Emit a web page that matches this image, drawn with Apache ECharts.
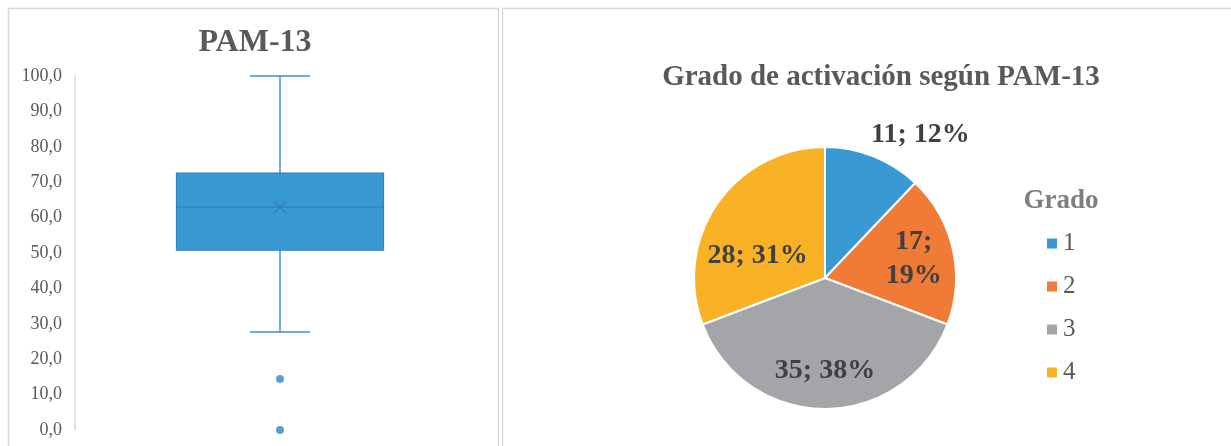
<!DOCTYPE html>
<html>
<head>
<meta charset="utf-8">
<title>PAM-13</title>
<script src="https://cdn.jsdelivr.net/npm/echarts@6/dist/echarts.min.js"></script>
<style>
  html, body { margin: 0; padding: 0; background: #fff; }
  #chart { width: 1231px; height: 446px; }
</style>
</head>
<body>
<div id="chart"></div>
<script>
// boxplot PAM-13 : min, Q1, mediana, Q3, max
var boxStats = [27.7, 50.8, 63.0, 72.6, 100.0];
var meanValue = 62.9;
var outliers = [14.4, 0.0];
var boxCategory = ['PAM-13'];

// grado de activacion
var grados = ['1', '2', '3', '4'];
var counts = [11, 17, 35, 28];
var colors = ['#3899d3', '#ef7b36', '#a4a5a9', '#f9b226'];

var serif = '"Liberation Serif", "DejaVu Serif", serif';

var chart = echarts.init(document.getElementById('chart'));

var pieData = grados.map(function (g, i) {
    return { name: g, value: counts[i] };
});
// ajustes de posicion de etiquetas (como en Excel)
var labelOffsets = [[70, -80], [22, -4], [0, 24], [-11, 17]];
pieData.forEach(function (d, i) {
    d.label = { offset: labelOffsets[i] };
});

// caja y bigotes estilo Excel (topes estrechos)
function renderBox(params, api) {
    var x = api.value(0);
    var pMin = api.coord([x, api.value(1)]);
    var pQ1 = api.coord([x, api.value(2)]);
    var pMed = api.coord([x, api.value(3)]);
    var pQ3 = api.coord([x, api.value(4)]);
    var pMax = api.coord([x, api.value(5)]);
    var cx = pMed[0];
    var boxW = 207, capW = 60;
    var lineStyle = { stroke: '#3a8fca', lineWidth: 1.5 };
    return {
        type: 'group',
        children: [
            { type: 'line', shape: { x1: cx, y1: pMax[1], x2: cx, y2: pQ3[1] }, style: lineStyle },
            { type: 'line', shape: { x1: cx, y1: pQ1[1], x2: cx, y2: pMin[1] }, style: lineStyle },
            { type: 'line', shape: { x1: cx - capW / 2, y1: pMax[1], x2: cx + capW / 2, y2: pMax[1] }, style: lineStyle },
            { type: 'line', shape: { x1: cx - capW / 2, y1: pMin[1], x2: cx + capW / 2, y2: pMin[1] }, style: lineStyle },
            { type: 'rect', shape: { x: cx - boxW / 2, y: pQ3[1], width: boxW, height: pQ1[1] - pQ3[1] },
              style: { fill: '#3899d3', stroke: '#2f83bd', lineWidth: 1.2 } },
            { type: 'line', shape: { x1: cx - boxW / 2, y1: pMed[1], x2: cx + boxW / 2, y2: pMed[1] },
              style: { stroke: '#2d7db5', lineWidth: 1.2 } }
        ]
    };
}

var option = {
    animation: false,
    textStyle: { fontFamily: serif },
    graphic: [
        { type: 'rect', shape: { x: 8.5, y: 8.5, width: 490, height: 445 },
          style: { fill: 'none', stroke: '#d9d9d9', lineWidth: 1.5 }, silent: true },
        { type: 'rect', shape: { x: 502.5, y: 8.5, width: 735, height: 445 },
          style: { fill: 'none', stroke: '#d9d9d9', lineWidth: 1.5 }, silent: true }
    ],
    title: [
        { text: 'PAM-13', left: 250, top: 22, textAlign: 'center',
          textStyle: { fontFamily: serif, fontSize: 32, fontWeight: 'bold', color: '#595959' } },
        { text: 'Grado de activación según PAM-13', left: 876, top: 58, textAlign: 'center',
          textStyle: { fontFamily: serif, fontSize: 29, fontWeight: 'bold', color: '#595959' } },
        { text: 'Grado', left: 1056, top: 183, textAlign: 'center',
          textStyle: { fontFamily: serif, fontSize: 27, fontWeight: 'bold', color: '#7f7f7f' } }
    ],
    legend: {
        data: grados,
        orient: 'vertical',
        left: 1040,
        top: 226,
        itemWidth: 12,
        itemHeight: 12,
        itemGap: 18,
        icon: 'rect',
        textStyle: { fontFamily: serif, fontSize: 25, color: '#595959' }
    },
    grid: { left: 75, right: 746, top: 76, bottom: 16 },
    xAxis: {
        type: 'category',
        data: boxCategory,
        show: false
    },
    yAxis: {
        type: 'value',
        min: 0,
        max: 100,
        interval: 10,
        axisLine: { show: true, lineStyle: { color: '#d9d9d9', width: 1.5 } },
        axisTick: { show: false },
        splitLine: { show: false },
        axisLabel: {
            margin: 13,
            fontFamily: serif,
            fontSize: 18,
            color: '#595959',
            formatter: function (v) { return v.toFixed(1).replace('.', ','); }
        }
    },
    series: [
        {
            type: 'custom',
            renderItem: renderBox,
            data: [[0].concat(boxStats)],
            encode: { x: 0, y: [1, 2, 3, 4, 5] },
            silent: true
        },
        {
            type: 'scatter',
            data: outliers.map(function (v) { return [0, v]; }),
            symbol: 'circle',
            symbolSize: 8,
            itemStyle: { color: '#2f87c4' },
            silent: true
        },
        {
            type: 'scatter',
            data: [[0, meanValue]],
            symbol: 'path://M0,0L10,10M10,0L0,10',
            symbolSize: 13,
            itemStyle: { color: 'none', borderColor: '#2e7bb2', borderWidth: 1.3 },
            z: 5,
            silent: true
        },
        {
            type: 'pie',
            center: [825, 278],
            radius: 131,
            startAngle: 90,
            percentPrecision: 0,
            data: pieData,
            color: colors,
            itemStyle: { borderColor: '#fff', borderWidth: 2 },
            label: {
                position: 'inside',
                fontFamily: serif,
                fontSize: 28,
                fontWeight: 'bold',
                color: '#404040',
                lineHeight: 34,
                formatter: function (p) {
                    return p.value + ';' + (p.dataIndex === 1 ? '\n' : ' ') + p.percent + '%';
                }
            },
            labelLine: { show: false },
            silent: true
        }
    ]
};

chart.setOption(option);
window.onresize = chart.resize;
</script>
</body>
</html>
